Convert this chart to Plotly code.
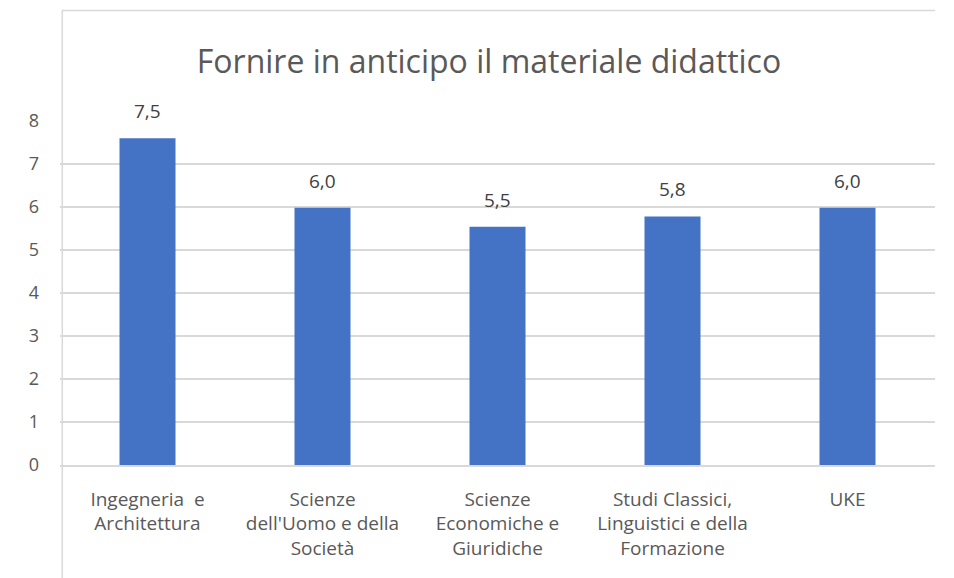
import plotly.graph_objects as go

categories = ["Ingegneria  e<br>Architettura",
              "Scienze<br>dell'Uomo e della<br>Società",
              "Scienze<br>Economiche e<br>Giuridiche",
              "Studi Classici,<br>Linguistici e della<br>Formazione",
              "UKE"]
values = [7.6, 5.98, 5.54, 5.78, 5.98]
value_labels = ["7,5", "6,0", "5,5", "5,8", "6,0"]
y_ticks = [0, 1, 2, 3, 4, 5, 6, 7, 8]

FONT = "Open Sans"
GREY = "#595959"

# page body has an 8px margin: shift the reference layout by -8 and size the
# figure so that it ends exactly at the window's right and bottom edges
OFF = 8
W, H = 954 - OFF, 578 - OFF
# plot area in figure pixels
PX0, PX1 = 60 - OFF, 935 - OFF
PY0, PY1 = 121 - OFF, 465 - OFF

fig = go.Figure()
fig.add_trace(go.Bar(x=categories, y=values, marker=dict(color="#4472C4", line=dict(width=0)),
                     width=0.32, hoverinfo="skip"))

# chart-area border (top and left edges) on a full-figure overlay axis in pixel units
border_x = [W + 5, 2.5, 2.5]
border_y = [2.5, 2.5, H + 5]
fig.add_trace(go.Scatter(x=border_x, y=border_y, xaxis="x2", yaxis="y2", mode="lines",
                         line=dict(color="#d9d9d9", width=1.5), hoverinfo="skip"))

for c, v, t in zip(categories, values, value_labels):
    fig.add_annotation(x=c, y=v, text=t, showarrow=False, yanchor="bottom", yshift=12,
                       font=dict(family=FONT, size=19, color="#404040"))

fig.update_layout(
    width=W, height=H,
    margin=dict(l=0, r=0, t=0, b=0, pad=0),
    paper_bgcolor="white", plot_bgcolor="rgba(0,0,0,0)",
    title=dict(text="Fornire in anticipo il materiale didattico", x=(489 - OFF) / W, xanchor="center",
               y=1 - (62 - OFF) / H, yanchor="middle",
               font=dict(family=FONT, size=32, color=GREY)),
    font=dict(family=FONT, color=GREY),
    showlegend=False,
    xaxis=dict(domain=[PX0 / W, PX1 / W], automargin=False,
               showgrid=False, showline=True, linecolor="#d9d9d9", linewidth=1.5,
               ticks="", tickfont=dict(family=FONT, size=19, color=GREY), tickangle=0,
               ticklabelstandoff=16),
    yaxis=dict(domain=[(H - PY1) / H, (H - PY0) / H], automargin=False,
               range=[0, 8], tickvals=y_ticks, showgrid=True, gridcolor="#d9d9d9", gridwidth=1.5,
               zeroline=False, showline=False, ticks="",
               tickfont=dict(family=FONT, size=18, color=GREY), ticklabelstandoff=20),
    xaxis2=dict(domain=[0, 1], range=[0, W], visible=False, overlaying="x", anchor="y2",
                fixedrange=True),
    yaxis2=dict(domain=[0, 1], range=[H, 0], visible=False, anchor="x2",
                fixedrange=True),
)

fig.write_html("out.html")
